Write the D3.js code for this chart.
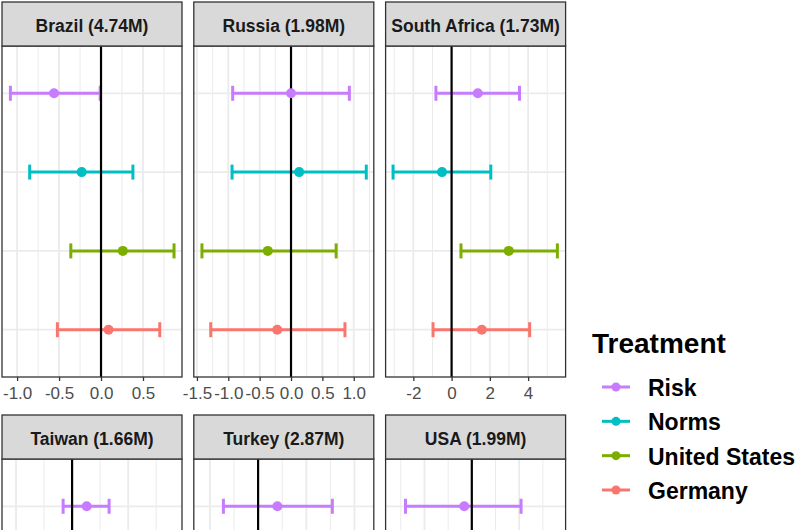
<!DOCTYPE html>
<html><head><meta charset="utf-8">
<script src="https://cdn.jsdelivr.net/npm/d3@7"></script>
<style>body{margin:0;background:#fff;} text{font-family:"Liberation Sans",Arial,sans-serif;}</style>
</head><body><svg id="chart" width="800" height="530"></svg>
<script>
// ---- data ----
const countries = ["Brazil (4.74M)", "Russia (1.98M)", "South Africa (1.73M)", "Taiwan (1.66M)", "Turkey (2.87M)", "USA (1.99M)"];
const treatments = ["Risk", "Norms", "United States", "Germany"];
const colors = ["#C77CFF", "#00BFC4", "#7CAE00", "#F8766D"];

const riskEst  = [-0.56, 0.00, 1.37, 0.13, 0.20, -0.08];
const riskLo   = [-1.08, -0.93, -0.82, -0.08, -0.36, -0.70];
const riskHi   = [-0.01, 0.93, 3.55, 0.33, 0.77, 0.52];
const normsEst = [-0.23, 0.13, -0.50, null, null, null];
const normsLo  = [-0.85, -0.94, -3.06, null, null, null];
const normsHi  = [0.38, 1.20, 2.05, null, null, null];
const usEst    = [0.26, -0.37, 2.99, null, null, null];
const usLo     = [-0.36, -1.42, 0.49, null, null, null];
const usHi     = [0.87, 0.72, 5.53, null, null, null];
const deEst    = [0.09, -0.22, 1.58, null, null, null];
const deLo     = [-0.52, -1.28, -0.97, null, null, null];
const deHi     = [0.70, 0.86, 4.08, null, null, null];

const xLimits = [[-1.18, 0.965], [-1.55, 1.32], [-3.45, 5.96], [-0.625, 0.98], [-0.667, 1.2], [-0.91, 0.99]];
const xTicks = [[-1, -0.5, 0, 0.5], [-1.5, -1, -0.5, 0, 0.5, 1], [-2, 0, 2, 4], [-0.5, 0, 0.5], [-0.5, 0, 0.5, 1], [-0.5, 0, 0.5]];
const xTickFormats = [".1f", ".1f", "d", ".1f", ".1f", ".1f"];

const seriesEst = [riskEst, normsEst, usEst, deEst];
const seriesLo = [riskLo, normsLo, usLo, deLo];
const seriesHi = [riskHi, normsHi, usHi, deHi];

// ---- layout ----
const W = 800, H = 530;
const svg = d3.select("#chart");
svg.append("rect").attr("width", W).attr("height", H).attr("fill", "#fff");
const panelW = 180, stripH = 44, panelH = 331;
const colLeft = c => 2 + c * 191.8;
const rowTop = r => r === 0 ? 2 : 415;

countries.forEach((name, i) => {
  const col = i % 3, row = Math.floor(i / 3);
  const x0 = colLeft(col), sTop = rowTop(row), pTop = sTop + stripH;
  const g = svg.append("g");
  const x = d3.scaleLinear().domain(xLimits[i]).range([x0, x0 + panelW]);
  const y = d3.scalePoint().domain(treatments).range([pTop, pTop + panelH]).padding(0.6);

  // gridlines
  const ticks = xTicks[i];
  const step = ticks[1] - ticks[0];
  const ext = [ticks[0] - step, ...ticks, ticks[ticks.length - 1] + step];
  const dom = xLimits[i];
  const minors = ext.map(t => t + step / 2).filter(v => v > dom[0] && v < dom[1] && !ticks.includes(v));
  g.selectAll(".minor").data(minors).join("line")
    .attr("x1", d => x(d)).attr("x2", d => x(d)).attr("y1", pTop).attr("y2", pTop + panelH)
    .attr("stroke", "#ebebeb").attr("stroke-width", 1);
  g.selectAll(".majorx").data(ticks).join("line")
    .attr("x1", d => x(d)).attr("x2", d => x(d)).attr("y1", pTop).attr("y2", pTop + panelH)
    .attr("stroke", "#ebebeb").attr("stroke-width", 1.8);
  g.selectAll(".majory").data(treatments).join("line")
    .attr("x1", x0).attr("x2", x0 + panelW).attr("y1", d => y(d)).attr("y2", d => y(d))
    .attr("stroke", "#ebebeb").attr("stroke-width", 1.8);

  // error bars
  const rows = treatments.map((t, k) => ({t, k, est: seriesEst[k][i], lo: seriesLo[k][i], hi: seriesHi[k][i]}))
    .filter(d => d.est !== null);
  const capH = 7.5;
  rows.forEach(d => {
    const c = colors[d.k], yy = y(d.t);
    g.append("line").attr("x1", x(d.lo)).attr("x2", x(d.hi)).attr("y1", yy).attr("y2", yy)
      .attr("stroke", c).attr("stroke-width", 3);
    [d.lo, d.hi].forEach(v => g.append("line").attr("x1", x(v)).attr("x2", x(v))
      .attr("y1", yy - capH).attr("y2", yy + capH).attr("stroke", c).attr("stroke-width", 3));
  });
  // zero line
  g.append("line").attr("x1", x(0)).attr("x2", x(0)).attr("y1", pTop).attr("y2", pTop + panelH)
    .attr("stroke", "#000").attr("stroke-width", 2.2);
  // points
  g.selectAll(".pt").data(rows).join("circle")
    .attr("cx", d => x(d.est)).attr("cy", d => y(d.t)).attr("r", 5)
    .attr("fill", d => colors[d.k]);

  // panel border
  g.append("rect").attr("x", x0).attr("y", pTop).attr("width", panelW).attr("height", panelH)
    .attr("fill", "none").attr("stroke", "#333").attr("stroke-width", 1.3);
  // strip
  g.append("rect").attr("x", x0).attr("y", sTop).attr("width", panelW).attr("height", stripH)
    .attr("fill", "#d9d9d9").attr("stroke", "#333").attr("stroke-width", 1.3);
  g.append("text").attr("x", x0 + panelW / 2).attr("y", sTop + 29.5).attr("text-anchor", "middle")
    .attr("font-size", 17.5).attr("font-weight", "bold").attr("fill", "#1a1a1a").text(name);

  // x axis (only where it falls inside the picture; the lower row's axis is cropped away)
  if (pTop + panelH < H) {
    const fmt = d3.format(xTickFormats[i]);
    const axis = d3.axisBottom(x).tickValues(ticks).tickSize(4).tickPadding(6)
      .tickFormat(d => fmt(d).replace("\u2212", "-"));
    const ax = g.append("g").attr("transform", `translate(0,${pTop + panelH})`).call(axis);
    ax.select(".domain").remove();
    ax.selectAll(".tick line").attr("stroke", "#333").attr("stroke-width", 1.3);
    ax.selectAll(".tick text").attr("font-size", 17).attr("fill", "#4d4d4d")
      .attr("font-family", "'Liberation Sans',Arial,sans-serif");
  }
});

// ---- legend ----
const lg = svg.append("g");
lg.append("text").attr("x", 592).attr("y", 353).attr("font-size", 28).attr("font-weight", "bold")
  .attr("fill", "#000").text("Treatment");
const ly = d3.scalePoint().domain(treatments).range([387, 490]);
treatments.forEach((t, k) => {
  const yy = ly(t);
  lg.append("line").attr("x1", 602).attr("x2", 630).attr("y1", yy).attr("y2", yy)
    .attr("stroke", colors[k]).attr("stroke-width", 3);
  lg.append("circle").attr("cx", 616).attr("cy", yy).attr("r", 4.5).attr("fill", colors[k]);
  lg.append("text").attr("x", 648).attr("y", yy + 9).attr("font-size", 23).attr("font-weight", "bold")
    .attr("fill", "#000").text(t);
});
</script></body></html>
